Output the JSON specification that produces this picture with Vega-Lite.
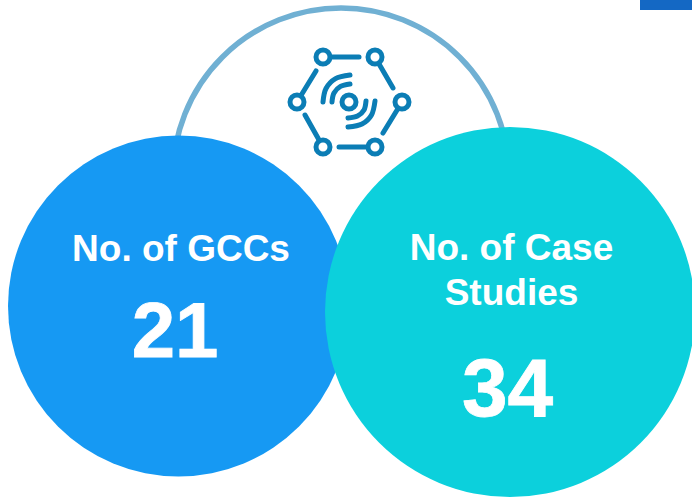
{"$schema":"https://vega.github.io/schema/vega-lite/v6.json","width":692,"height":498,"padding":0,"autosize":{"type":"none"},"background":"white","config":{"view":{"stroke":null}},
"datasets":{
"lines":[
{"id":"a","o":1,"x":323,"y":57},{"id":"a","o":2,"x":359,"y":57},
{"id":"b","o":1,"x":375,"y":57},{"id":"b","o":2,"x":393,"y":88},
{"id":"c","o":1,"x":402,"y":102},{"id":"c","o":2,"x":383,"y":133},
{"id":"d","o":1,"x":375,"y":147},{"id":"d","o":2,"x":339,"y":147},
{"id":"e","o":1,"x":323,"y":147},{"id":"e","o":2,"x":305,"y":115},
{"id":"f","o":1,"x":297,"y":102},{"id":"f","o":2,"x":316,"y":71},
{"id":"g","o":1,"x":323,"y":102},{"id":"g","o":2,"x":326,"y":88.5},{"id":"g","o":3,"x":335.5,"y":78.6},{"id":"g","o":4,"x":350,"y":75},
{"id":"h","o":1,"x":332,"y":102},{"id":"h","o":2,"x":334,"y":93},{"id":"h","o":3,"x":340.5,"y":86.4},{"id":"h","o":4,"x":350,"y":84},
{"id":"i","o":1,"x":375,"y":101},{"id":"i","o":2,"x":371.5,"y":115},{"id":"i","o":3,"x":362,"y":124},{"id":"i","o":4,"x":348,"y":127},
{"id":"j","o":1,"x":366,"y":101},{"id":"j","o":2,"x":364,"y":110},{"id":"j","o":3,"x":357.5,"y":116},{"id":"j","o":4,"x":348,"y":118}
],
"nodes":[{"x":323,"y":57},{"x":375,"y":57},{"x":402,"y":102},{"x":375,"y":147},{"x":323,"y":147},{"x":297,"y":102},{"x":349,"y":102}]
},
"encoding":{
"x":{"field":"x","type":"quantitative","scale":{"domain":[0,692],"nice":false,"zero":false},"axis":null},
"y":{"field":"y","type":"quantitative","scale":{"domain":[498,0],"nice":false,"zero":false},"axis":null}
},
"layer":[
{"data":{"values":[{"x":341,"y":176}]},"mark":{"type":"point","filled":false,"size":112896,"stroke":"#70B0D3","strokeWidth":5.5,"opacity":1,"clip":false}},
{"data":{"name":"lines"},"mark":{"type":"line","stroke":"#0B7DB5","strokeWidth":5,"strokeCap":"round","interpolate":"cardinal"},"encoding":{"detail":{"field":"id"},"order":{"field":"o","type":"quantitative"}}},
{"data":{"name":"nodes"},"mark":{"type":"point","filled":true,"fill":"white","stroke":"#0B7DB5","strokeWidth":5,"size":196,"opacity":1}},
{"data":{"values":[{"x":178.5,"y":306}]},"mark":{"type":"point","filled":true,"fill":"#1699F3","size":116281,"opacity":1,"strokeWidth":0}},
{"data":{"values":[{"x":510,"y":312}]},"mark":{"type":"point","filled":true,"fill":"#0CD0DC","size":136900,"opacity":1,"strokeWidth":0}},
{"data":{"values":[{"x":640,"y":0,"x2":692,"y2":10}]},"mark":{"type":"rect","fill":"#1468C4"},"encoding":{"x2":{"field":"x2"},"y2":{"field":"y2"}}},
{"data":{"values":[{"x":181,"y":250,"t":"No. of GCCs"},{"x":511.5,"y":249,"t":"No. of Case"},{"x":511.5,"y":294,"t":"Studies"}]},"mark":{"type":"text","font":"Liberation Sans","fontWeight":"bold","fontSize":37,"fill":"white","align":"center","baseline":"middle"},"encoding":{"text":{"field":"t"}}},
{"data":{"values":[{"x":175,"y":334,"t":"21"}]},"mark":{"type":"text","font":"Liberation Sans","fontWeight":"bold","fontSize":78,"fill":"white","stroke":"white","strokeWidth":0.8,"align":"center","baseline":"middle"},"encoding":{"text":{"field":"t"}}},
{"data":{"values":[{"x":507.5,"y":391,"t":"34"}]},"mark":{"type":"text","font":"Liberation Sans","fontWeight":"bold","fontSize":82,"fill":"white","stroke":"white","strokeWidth":0.8,"align":"center","baseline":"middle"},"encoding":{"text":{"field":"t"}}}
]}
